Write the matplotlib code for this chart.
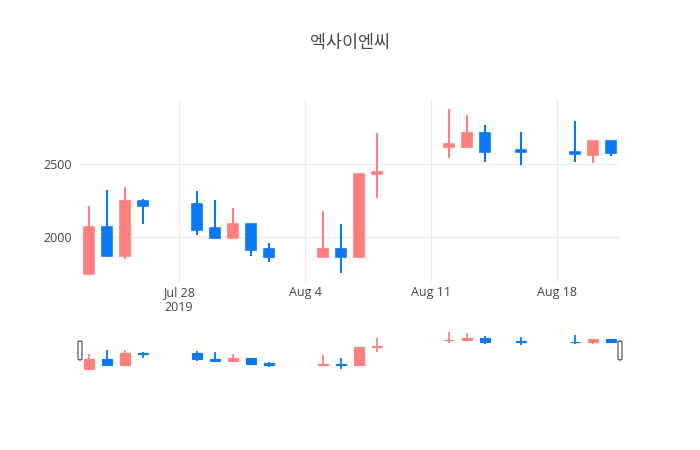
import numpy as np
import matplotlib
matplotlib.use("Agg")
import matplotlib.pyplot as plt
import matplotlib.dates as mdates
from matplotlib.patches import FancyBboxPatch
from datetime import datetime

# daily OHLC
dates = ["2019-07-23", "2019-07-24", "2019-07-25", "2019-07-26",
         "2019-07-29", "2019-07-30", "2019-07-31", "2019-08-01", "2019-08-02",
         "2019-08-05", "2019-08-06", "2019-08-07", "2019-08-08",
         "2019-08-12", "2019-08-13", "2019-08-14", "2019-08-16",
         "2019-08-19", "2019-08-20", "2019-08-21"]
opens = [1745, 2065, 1870, 2245, 2225, 2060, 1990, 2085, 1920, 1865,
         1915, 1860, 2430, 2620, 2620, 2710, 2595, 2585, 2565, 2655]
closes = [2065, 1870, 2245, 2215, 2050, 1990, 2085, 1910, 1865, 1915,
          1860, 2435, 2445, 2635, 2710, 2585, 2580, 2570, 2655, 2575]
highs = [2215, 2320, 2340, 2260, 2315, 2255, 2195, 2085, 1960, 2175,
         2085, 2435, 2710, 2875, 2840, 2765, 2720, 2795, 2655, 2655]
lows = [1745, 1860, 1845, 2085, 2010, 1990, 1990, 1870, 1825, 1865,
        1755, 1860, 2270, 2545, 2620, 2515, 2495, 2515, 2505, 2555]

title = "엑사이엔씨"
xtick_dates = ["2019-07-28", "2019-08-04", "2019-08-11", "2019-08-18"]
xtick_labels = ["Jul 28\n2019", "Aug 4", "Aug 11", "Aug 18"]
ytick_vals = [2000, 2500]

UP = "#FF7F7F"
DOWN = "#0A78F5"
TXT = "#444444"

x = mdates.date2num([datetime.strptime(d, "%Y-%m-%d") for d in dates])
o = np.array(opens)
c = np.array(closes)
colors = [UP if cc >= oo else DOWN for oo, cc in zip(o, c)]
xlo = mdates.date2num(datetime(2019, 7, 22, 12))
xhi = mdates.date2num(datetime(2019, 8, 21, 12))
ylo, yhi = 1690, 2940

plt.rcParams['font.family'] = ['Open Sans', 'DejaVu Sans']

fig = plt.figure(figsize=(7, 4.5), dpi=100)
ax = fig.add_axes([80/700, 1 - 282/450, 540/700, 182/450])
sl = fig.add_axes([80/700, 1 - 371/450, 540/700, 41/450])


def candles(a, lw_wick, lw_edge):
    a.vlines(x, lows, highs, colors=colors, linewidth=lw_wick, zorder=2)
    a.bar(x, np.abs(c - o), bottom=np.minimum(o, c), width=0.55,
          color=colors, edgecolor=colors, linewidth=lw_edge, zorder=3)
    a.set_xlim(xlo, xhi)
    a.set_ylim(ylo, yhi)
    for s in a.spines.values():
        s.set_visible(False)


candles(ax, 1.5, 1.2)
candles(sl, 1.3, 0.8)

# main axes styling
ax.set_xticks(mdates.date2num([datetime.strptime(d, "%Y-%m-%d") for d in xtick_dates]))
ax.set_xticklabels(xtick_labels, color=TXT, fontsize=9, linespacing=1.15)
ax.set_yticks(ytick_vals)
ax.set_yticklabels([str(v) for v in ytick_vals], color=TXT, fontsize=9)
ax.tick_params(axis='x', length=0, pad=3)
ax.tick_params(axis='y', length=0, pad=6)
ax.grid(True, color="#EBEBEB", linewidth=0.8, zorder=0)
ax.set_axisbelow(True)

sl.set_xticks([])
sl.set_yticks([])

# range slider handles
for px in (78, 618):
    h = FancyBboxPatch((px/700, 1 - 360/450), 4/700, 19/450,
                       boxstyle="round,pad=0,rounding_size=0.003",
                       transform=fig.transFigure, facecolor="white",
                       edgecolor="#444444", linewidth=0.8, zorder=5)
    fig.patches.append(h)

fig.text(350/700, 1 - 43/450, title, ha="center", va="center",
         fontsize=12.5, color=TXT,
         family=['Noto Sans CJK KR', 'DejaVu Sans'])

fig.savefig("out.png", dpi=100)
